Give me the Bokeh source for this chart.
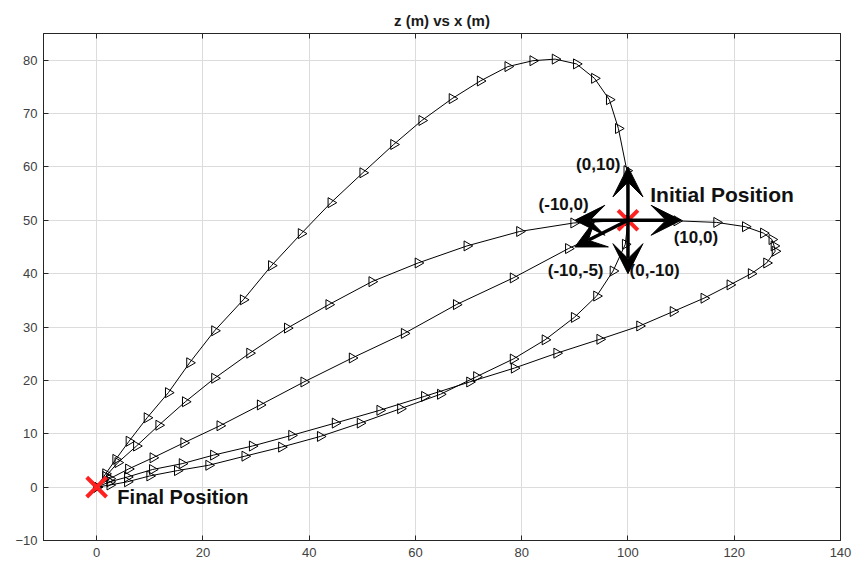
from bokeh.plotting import figure
from bokeh.models import Arrow, VeeHead, LinearAxis, FixedTicker, Label, CustomJSTickFormatter
from bokeh.embed import file_html
from bokeh.resources import INLINE

x_ticks = [0, 20, 40, 60, 80, 100, 120, 140]
z_ticks = [-10, 0, 10, 20, 30, 40, 50, 60, 70, 80]

# trajectory with initial velocity (0,10)
xA = [100, 99.8, 98.2, 96.5, 93.7, 90.3, 86.3, 82.1, 77.4, 72.2, 66.9, 61.2, 55.9, 50.1, 44.1,
      38.5, 32.9, 27.6, 22.2, 17.5, 13.5, 9.5, 6.1, 3.6, 1.7, 0]
zA = [50, 59.3, 67.2, 72.6, 76.6, 79.3, 80.2, 79.9, 78.8, 76.1, 72.8, 68.7, 64.2, 58.9, 53.3,
      47.5, 41.5, 35.1, 29.3, 23.3, 17.7, 13.0, 8.6, 5.2, 2.5, 0]
# (-10,0)
xB = [100, 89.8, 79.6, 69.7, 60.5, 51.8, 43.7, 35.9, 28.8, 22.2, 16.7, 11.7, 7.5, 4.0, 1.7, 0]
zB = [50, 49.5, 47.9, 45.2, 42.0, 38.5, 34.2, 29.8, 25.1, 20.4, 16.0, 11.6, 7.7, 4.6, 2.0, 0]
# (-10,-5)
xC = [100, 88.8, 78.4, 67.7, 57.9, 48.1, 39.0, 30.8, 23.2, 16.4, 10.6, 6.0, 2.5, 0]
zC = [50, 44.7, 39.2, 34.2, 28.8, 24.2, 19.7, 15.4, 11.5, 8.3, 5.5, 3.4, 1.6, 0]
# (0,-10)
xD = [100, 99.5, 97.2, 94.1, 89.9, 84.4, 78.4, 71.5, 64.7, 57.2, 49.6, 42.1, 34.8, 27.9, 21.1,
      15.2, 10.0, 5.8, 2.5, 0]
zD = [50, 45.5, 40.5, 35.8, 31.8, 27.6, 24.0, 20.7, 17.4, 14.7, 12.0, 9.5, 7.5, 5.8, 4.1,
      3.1, 2.1, 1.0, 0.4, 0]
# (10,0)
xE = [100, 109.2, 116.7, 122.1, 125.5, 127.1, 127.5, 127.7, 126.1, 123.2, 119.2, 114.3, 108.5,
      102.2, 94.7, 86.6, 78.6, 70.2, 61.7, 53.3, 44.9, 36.7, 29.3, 22.0, 16.1, 10.5, 5.8, 2.5, 0]
zE = [50, 49.9, 49.6, 48.8, 47.6, 46.4, 45.2, 44.2, 42.0, 40.0, 37.9, 35.4, 32.9, 30.2, 27.7,
      25.1, 22.3, 19.7, 17.0, 14.4, 12.0, 9.7, 7.7, 6.0, 4.4, 3.3, 1.9, 1.0, 0]

trajectories = [(xA, zA), (xB, zB), (xC, zC), (xD, zD), (xE, zE)]

# initial velocity vectors (quiver)
x0, z0 = 100, 50
u = [0, 10, -10, 0, -10]
w = [10, 0, 0, -10, -5]

initial_pos = (100, 50)
final_pos = (0, 0)

FONT = "Liberation Sans"

p = figure(width=858, height=567, x_range=(-10, 140), y_range=(-10, 85),
           output_backend="svg", toolbar_location=None,
           min_border_left=43, min_border_right=18, min_border_top=33, min_border_bottom=27,
           title="z (m) vs x (m)")
p.title.align = "center"
p.title.text_font = FONT
p.title.text_font_size = "15px"
p.title.text_font_style = "bold"
p.title.text_color = "#1a1a1a"

p.outline_line_color = "#262626"
p.outline_line_width = 1
p.background_fill_color = "white"
p.border_fill_color = "white"

for ax, ticks in ((p.xaxis[0], x_ticks), (p.yaxis[0], z_ticks)):
    ax.ticker = FixedTicker(ticks=ticks)
    ax.major_tick_in = 5
    ax.major_tick_out = 0
    ax.minor_tick_in = 0
    ax.minor_tick_out = 0
    ax.axis_line_color = "#262626"
    ax.major_tick_line_color = "#262626"
    ax.major_label_text_font = FONT
    ax.major_label_text_font_size = "13px"
    ax.major_label_text_color = "#404040"
p.xaxis.major_label_standoff = 7
p.yaxis.major_label_standoff = 6

blank = CustomJSTickFormatter(code="return '';")
for loc, ticks in (("above", x_ticks), ("right", z_ticks)):
    ax = LinearAxis(ticker=FixedTicker(ticks=ticks), major_tick_in=5, major_tick_out=0,
                    minor_tick_in=0, minor_tick_out=0, formatter=blank,
                    major_label_standoff=0, axis_line_color="#262626",
                    major_tick_line_color="#262626")
    p.add_layout(ax, loc)

p.xgrid.ticker = FixedTicker(ticks=x_ticks)
p.ygrid.ticker = FixedTicker(ticks=z_ticks)
p.grid.grid_line_color = "#dcdcdc"
p.grid.grid_line_width = 1

for xs, zs in trajectories:
    p.line(xs, zs, line_color="black", line_width=1)
    p.scatter(xs, zs, marker="triangle", size=10, angle=-1.5708, line_color="black",
              line_width=1, fill_alpha=0)

for ui, wi in zip(u, w):
    p.add_layout(Arrow(end=VeeHead(size=30, fill_color="black", line_color="black", line_width=1),
                       x_start=x0, y_start=z0, x_end=x0 + ui, y_end=z0 + wi,
                       line_color="black", line_width=3.5))

p.scatter([initial_pos[0], final_pos[0]], [initial_pos[1], final_pos[1]], marker="x",
          size=28, line_color="#ff2020", line_width=4)

labels = [f"({ui},{wi})" for ui, wi in zip(u, w)]
label_pos = [(98.6, 60.5, "right"), (108.6, 46.8, "left"), (92.6, 52.9, "right"),
             (100.3, 40.6, "left"), (95.4, 40.6, "right")]
for txt, (lx, ly, al) in zip(labels, label_pos):
    p.add_layout(Label(x=lx, y=ly, text=txt, text_align=al, text_baseline="middle",
                       text_font=FONT, text_font_size="17px", text_font_style="bold",
                       text_color="#111111"))

p.add_layout(Label(x=104.2, y=54.8, text="Initial Position", text_align="left",
                   text_baseline="middle", text_font=FONT, text_font_size="21px",
                   text_font_style="bold", text_color="#111111"))
p.add_layout(Label(x=3.9, y=-1.9, text="Final Position", text_align="left",
                   text_baseline="middle", text_font=FONT, text_font_size="20px",
                   text_font_style="bold", text_color="#111111"))

open("out.html", "w").write(file_html(p, INLINE))
